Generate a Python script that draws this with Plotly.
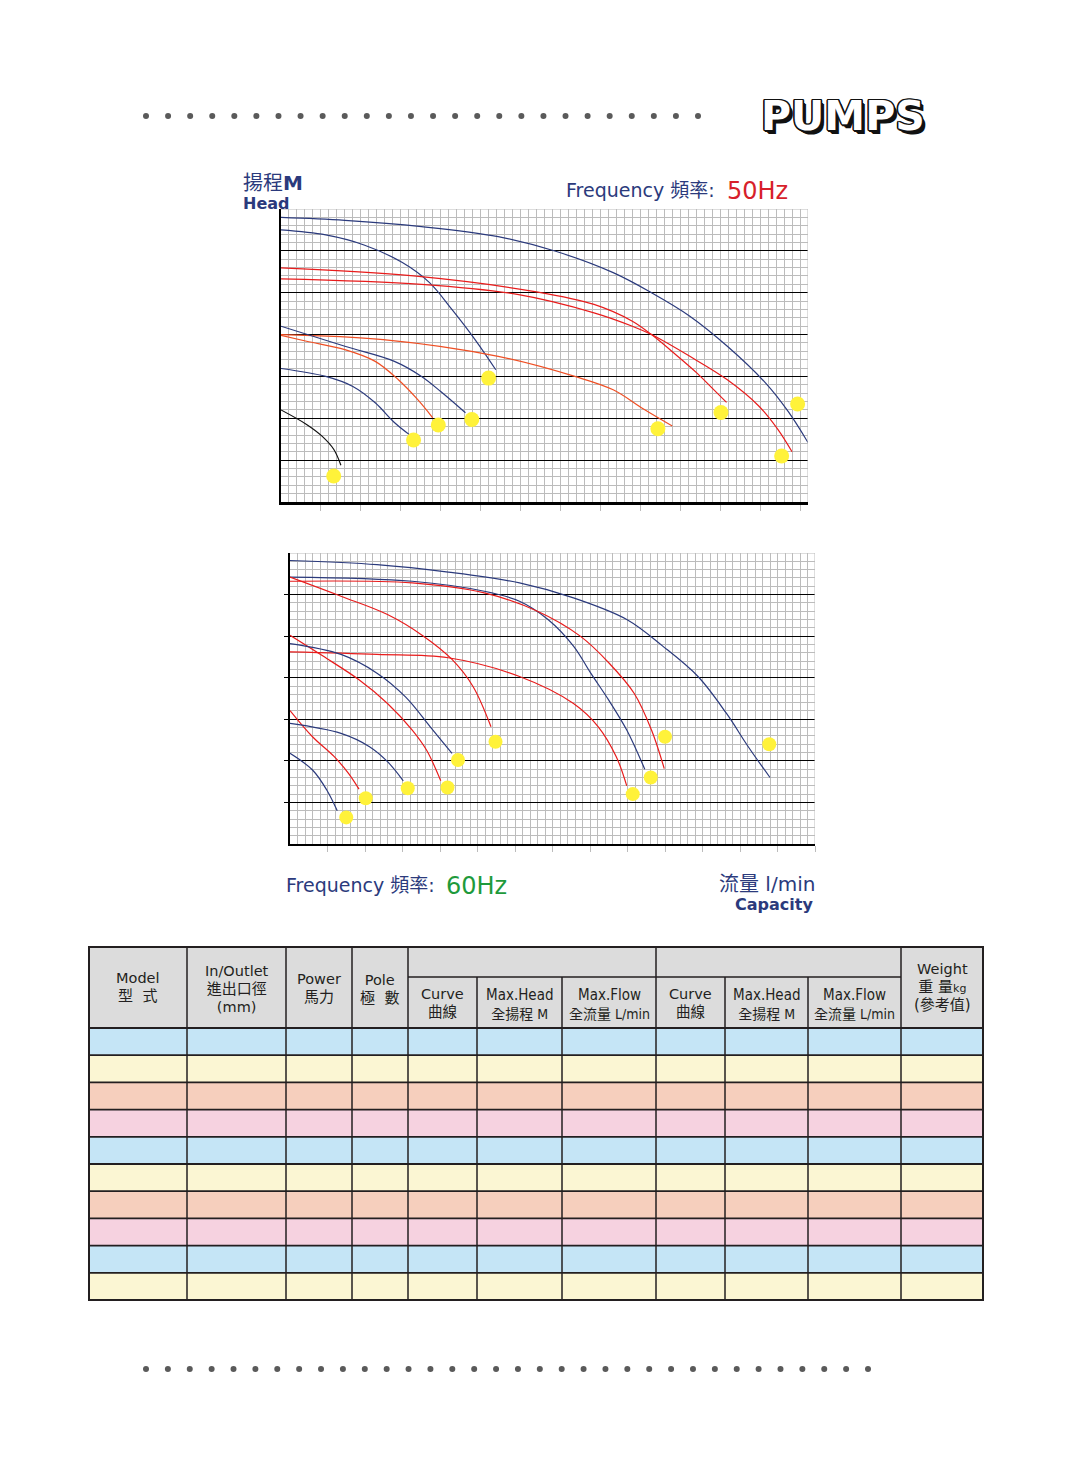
import numpy as np
import plotly.graph_objects as go

W, H = 1072, 1469
OFF = 8                      # page body margin of the html
FW, FH = W - 2 * OFF, H - 2 * OFF

NAVY = "#2b3a7c"
RED = "#e81c1c"
ORANGE = "#ef4f24"
GRID = "#bcbcbc"
YELLOW = "#fff23a"

# ---- 50Hz chart, capacity / head in grid cells ----
q50_1 = [0, 8.0, 17.6, 27.2, 34.4, 41.6, 46.4, 51.2, 55.9, 60.7, 63.6, 66.0]
h50_1 = [34.0, 33.65, 32.9, 31.7, 29.95, 27.4, 25.0, 22.2, 18.6, 14.2, 10.7, 7.1]
q50_2 = [0, 5.6, 10.4, 15.2, 18.6, 21.4, 24.3, 26.9]
h50_2 = [32.5, 31.9, 30.7, 28.6, 26.2, 23.0, 19.4, 15.8]
q50_3 = [0, 16.6, 32.0, 39.2, 44.0, 46.4, 49.2, 52.1, 54.0, 55.8]
h50_3 = [27.96, 27.0, 25.1, 23.6, 21.6, 20.0, 17.8, 15.4, 13.6, 11.9]
q50_4 = [0, 17.6, 29.6, 39.2, 44.0, 46.4, 51.2, 55.9, 59.8, 62.2, 64.0]
h50_4 = [26.65, 26.0, 24.8, 22.6, 21.0, 20.0, 17.4, 14.6, 11.5, 8.7, 6.0]
q50_5 = [0, 12.8, 27.2, 36.8, 41.6, 45.4, 49.0]
h50_5 = [20.0, 19.4, 17.4, 15.0, 13.4, 11.1, 9.07]
q50_6 = [0, 8.0, 14.2, 17.6, 20.0, 23.1]
h50_6 = [21.0, 18.6, 16.8, 15.0, 13.2, 10.66]
q50_7 = [0, 3.2, 8.0, 11.8, 14.7, 17.1, 19.0]
h50_7 = [19.9, 19.2, 18.2, 16.8, 14.6, 12.25, 10.06]
q50_8 = [0, 5.6, 9.0, 11.8, 14.2, 16.2]
h50_8 = [15.95, 15.0, 13.8, 11.85, 9.5, 7.96]
q50_9 = [0, 3.2, 5.1, 6.6, 7.5]
h50_9 = [11.0, 9.27, 7.9, 6.3, 4.4]
dot50_q = [64.7, 26.0, 55.1, 62.7, 47.2, 23.9, 19.7, 16.6, 6.6]
dot50_h = [11.7, 14.8, 10.7, 5.5, 8.75, 9.86, 9.2, 7.4, 3.1]

# ---- 60Hz chart ----
q60_1 = [0, 11.6, 21.1, 30.6, 37.8, 44.9, 49.7, 54.4, 58.2, 61.1, 64.0]
h60_1 = [34.1, 33.6, 32.7, 31.4, 29.6, 27.0, 23.8, 20.15, 15.7, 11.7, 8.0]
q60_2 = [0, 16.3, 25.9, 30.6, 34.4, 37.8, 40.1, 42.5, 44.9, 47.3]
h60_2 = [32.1, 31.6, 30.4, 29.2, 27.0, 23.8, 20.55, 17.3, 13.7, 9.0]
q60_3 = [0, 16.3, 25.9, 33.0, 38.7, 42.5, 45.9, 48.2, 49.9]
h60_3 = [31.6, 31.4, 30.2, 28.0, 25.0, 21.8, 18.1, 13.7, 9.07]
q60_4 = [0, 6.8, 13.0, 17.8, 21.6, 24.4, 26.8]
h60_4 = [32.1, 29.8, 27.6, 25.0, 22.2, 18.95, 14.1]
q60_5 = [0, 11.6, 21.1, 30.6, 37.8, 41.1, 43.5, 44.9]
h60_5 = [23.1, 22.8, 22.4, 20.15, 16.9, 14.1, 10.5, 7.0]
q60_6 = [0, 4.4, 9.2, 13.0, 16.3, 18.2, 20.1]
h60_6 = [25.1, 22.6, 19.75, 16.9, 13.7, 11.3, 7.6]
q60_7 = [0, 6.8, 11.6, 15.4, 18.7, 21.6]
h60_7 = [24.1, 22.8, 20.55, 17.7, 14.1, 10.9]
q60_8 = [0, 3.0, 5.9, 7.8, 9.2]
h60_8 = [16.05, 12.9, 10.5, 8.5, 6.6]
q60_9 = [0, 6.8, 10.6, 13.0, 15.1]
h60_9 = [14.5, 13.3, 11.7, 9.9, 7.6]
q60_10 = [0, 3.0, 4.9, 6.3]
h60_10 = [10.9, 8.9, 6.5, 4.0]
dot60_q = [63.9, 48.1, 50.0, 27.4, 45.7, 21.0, 22.4, 10.1, 15.7, 7.5]
dot60_h = [12.0, 8.0, 12.9, 12.3, 6.0, 6.8, 10.1, 5.5, 6.7, 3.2]

# ---- table ----
head_cols = ["Model", "In/Outlet", "Power", "Pole"]
head_cols_zh = ["型  式", "進出口徑", "馬力", "極  數"]
group_cols = ["Curve", "Max.Head", "Max.Flow", "Curve", "Max.Head", "Max.Flow"]
group_cols_zh = ["曲線", "全揚程 M", "全流量 L/min", "曲線", "全揚程 M", "全流量 L/min"]
row_colors = ["#c5e5f6", "#fbf6d3", "#f6cfbd", "#f6d2e0"]
n_rows = 10

curves50 = [(q50_1, h50_1, NAVY), (q50_2, h50_2, NAVY), (q50_3, h50_3, RED),
            (q50_4, h50_4, RED), (q50_5, h50_5, ORANGE), (q50_6, h50_6, NAVY),
            (q50_7, h50_7, ORANGE), (q50_8, h50_8, NAVY), (q50_9, h50_9, "#111111")]
curves60 = [(q60_1, h60_1, NAVY), (q60_2, h60_2, NAVY), (q60_3, h60_3, RED),
            (q60_4, h60_4, RED), (q60_5, h60_5, RED), (q60_6, h60_6, RED),
            (q60_7, h60_7, NAVY), (q60_8, h60_8, RED), (q60_9, h60_9, NAVY),
            (q60_10, h60_10, NAVY)]

fig = go.Figure()

for q, h, c in curves50:
    fig.add_trace(go.Scatter(x=q, y=h, mode="lines", line=dict(color=c, width=1.2, shape="spline"),
                             xaxis="x", yaxis="y", hoverinfo="skip"))
fig.add_trace(go.Scatter(x=dot50_q, y=dot50_h, mode="markers",
                         marker=dict(color=YELLOW, size=15), xaxis="x", yaxis="y"))

for q, h, c in curves60:
    fig.add_trace(go.Scatter(x=q, y=h, mode="lines", line=dict(color=c, width=1.2, shape="spline"),
                             xaxis="x2", yaxis="y2", hoverinfo="skip"))
fig.add_trace(go.Scatter(x=dot60_q, y=dot60_h, mode="markers",
                         marker=dict(color=YELLOW, size=14), xaxis="x2", yaxis="y2"))

# dotted rules at top and bottom of the page
fig.add_trace(go.Scatter(x=np.linspace(146, 698, 26), y=[116] * 26, mode="markers",
                         marker=dict(color="#5a5a5a", size=6), xaxis="x3", yaxis="y3"))
fig.add_trace(go.Scatter(x=np.linspace(146, 868, 34), y=[1369] * 34, mode="markers",
                         marker=dict(color="#5a5a5a", size=6), xaxis="x3", yaxis="y3"))


def px(p):
    return (p - OFF) / FW


def py(p):
    return 1 - (p - OFF) / FH


def xax(dom, xmax, lw):
    return dict(domain=dom, range=[0, xmax], showgrid=True, gridcolor=GRID, gridwidth=1,
                tickmode="array", tickvals=list(range(5, int(xmax) + 1, 5)),
                ticks="outside", ticklen=6, tickcolor=GRID, showticklabels=False,
                minor=dict(tickmode="array", tickvals=list(range(0, int(xmax) + 1)),
                           showgrid=True, gridcolor=GRID, gridwidth=1),
                showline=True, linecolor="black", linewidth=lw, zeroline=False)


def yax(dom, anchor, ticks):
    return dict(domain=dom, range=[0, 35], anchor=anchor, showgrid=True, gridcolor="black",
                gridwidth=1.2, tickmode="array", tickvals=[5, 10, 15, 20, 25, 30],
                ticks=ticks, ticklen=4, tickcolor="black", showticklabels=False,
                minor=dict(tickmode="array", tickvals=list(range(0, 36)),
                           showgrid=True, gridcolor=GRID, gridwidth=1),
                showline=True, linecolor="black", linewidth=1.5, zeroline=False)


fig.update_layout(
    width=FW, height=FH, margin=dict(l=0, r=0, t=0, b=0),
    paper_bgcolor="white", plot_bgcolor="rgba(0,0,0,0)", showlegend=False,
    xaxis=dict(xax([px(281), px(808)], 66, 3), anchor="y"),
    yaxis=yax([py(502), py(209)], "x", ""),
    xaxis2=dict(xax([px(290), px(815)], 70, 2), anchor="y2"),
    yaxis2=yax([py(844), py(553)], "x2", "outside"),
    xaxis3=dict(domain=[0, 1], range=[OFF, OFF + FW], visible=False, anchor="y3"),
    yaxis3=dict(domain=[0, 1], range=[OFF + FH, OFF], visible=False, anchor="x3"),
)

shapes = []
# gray top/right borders of the charts
for xr, yr, xmax in [("x", "y", 66), ("x2", "y2", 70)]:
    shapes.append(dict(type="line", xref=xr, yref=yr, x0=0, x1=xmax, y0=35, y1=35,
                       line=dict(color=GRID, width=1)))
    shapes.append(dict(type="line", xref=xr, yref=yr, x0=xmax, x1=xmax, y0=0, y1=35,
                       line=dict(color=GRID, width=1)))

# table
col_x = [89, 187, 286, 352, 408, 477, 562, 656, 725, 808, 901, 983]
t_top, t_split, t_head = 947, 977, 1028
row_h = (1300 - t_head) / n_rows
LC = "#231f20"
shapes.append(dict(type="rect", xref="x3", yref="y3", x0=col_x[0], x1=col_x[-1], y0=t_top, y1=t_head,
                   fillcolor="#dcdcdc", line=dict(width=0), layer="below"))
for i in range(n_rows):
    shapes.append(dict(type="rect", xref="x3", yref="y3", x0=col_x[0], x1=col_x[-1],
                       y0=t_head + i * row_h, y1=t_head + (i + 1) * row_h,
                       fillcolor=row_colors[i % 4], line=dict(width=0), layer="below"))
    shapes.append(dict(type="line", xref="x3", yref="y3", x0=col_x[0], x1=col_x[-1],
                       y0=t_head + i * row_h, y1=t_head + i * row_h, line=dict(color=LC, width=1.8)))
shapes.append(dict(type="line", xref="x3", yref="y3", x0=col_x[4], x1=col_x[10],
                   y0=t_split, y1=t_split, line=dict(color=LC, width=1.5)))
for i, cx in enumerate(col_x[1:-1], start=1):
    top = t_split if i in (5, 6, 8, 9) else t_top
    shapes.append(dict(type="line", xref="x3", yref="y3", x0=cx, x1=cx, y0=top, y1=1300,
                       line=dict(color=LC, width=1.5)))
shapes.append(dict(type="rect", xref="x3", yref="y3", x0=col_x[0], x1=col_x[-1], y0=t_top, y1=1300,
                   line=dict(color=LC, width=2)))
fig.update_layout(shapes=shapes)

SANS = "DejaVu Sans, Noto Sans CJK TC"
NARROW = "DejaVu Sans Condensed, Noto Sans CJK TC"
TXT = "#231f20"
ann = []


def note(text, x, y, size, color=TXT, family=SANS, xanchor="center", **fkw):
    ann.append(dict(text=text, x=x, y=y, xref="x3", yref="y3", showarrow=False,
                    xanchor=xanchor, yanchor="middle", align=xanchor,
                    font=dict(size=size, color=color, family=family, **fkw)))


def sp(text, size):
    return f"<span style='font-size:{size}px'>{text}</span>"


# table header: one text per cell, the base size sets the line spacing
head_pos = [(987, 13.8), (989, 13.8), (988, 13.8), (989, 13.8)]
for i, (en, zh) in enumerate(zip(head_cols, head_cols_zh)):
    cx = (col_x[i] + col_x[i + 1]) / 2
    lines = [sp(en, 14.5), sp(zh, 15)]
    if i == 1:
        lines.append(sp("(mm)", 14.5))
    note("<br>".join(lines), cx, head_pos[i][0], head_pos[i][1])
for j, (en, zh) in enumerate(zip(group_cols, group_cols_zh)):
    cx = (col_x[4 + j] + col_x[5 + j]) / 2
    if en == "Curve":
        note(sp(en, 14.5) + "<br>" + sp(zh, 14.5), cx, 1003, 13.8)
    else:
        note(sp(en, 15) + "<br>" + sp(zh, 14), cx, 1003.5, 14.6, family=NARROW)
wx = (col_x[10] + col_x[11]) / 2
note(sp("Weight", 14.5) + "<br>" + sp("重 量", 15) + sp("kg", 11) + "<br>" + sp("(參考值)", 15),
     wx, 987, 13.8)

# chart labels
LAB = "DejaVu Sans, Noto Sans CJK TC"
note("揚程<b>M</b>", 241, 183, 20, NAVY, LAB, "left")
note("<b>Head</b>", 241, 203, 16, NAVY, LAB, "left")
note("Frequency 頻率:", 564, 190, 19, NAVY, LAB, "left")
note("50Hz", 725, 191, 24, "#d71f2b", LAB, "left")
note("Frequency 頻率:", 284, 885, 19, NAVY, LAB, "left")
note("60Hz", 444, 886, 24, "#1e9a3b", LAB, "left")
note("流量 l/min", 817, 884, 20, NAVY, LAB, "right")
note("<b>Capacity</b>", 815, 904, 16, NAVY, LAB, "right")

# PUMPS logo: white face, outline and drop shadow through text-shadow
outline = ", ".join(f"{dx}px {dy}px 0 #111" for dx, dy in
                    [(-1.5, 0), (1.5, 0), (0, -1.5), (0, 1.5), (-1.2, -1.2), (1.2, 1.2),
                     (-1.2, 1.2), (1.2, -1.2), (2.5, 2.5), (3.5, 3.5)])
note("<b>PUMPS</b>", 843, 116, 41, "white", "DejaVu Sans, Liberation Sans", shadow=outline)

fig.update_layout(annotations=ann)
fig.write_html("out.html")
